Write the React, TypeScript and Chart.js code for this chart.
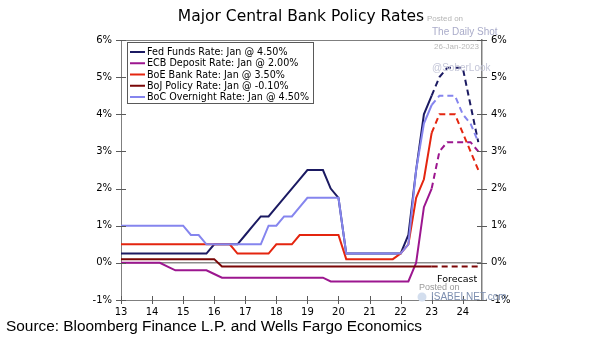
import React, { useEffect, useRef } from 'react';
import { Chart, registerables } from 'chart.js';

Chart.register(...registerables);

// Quarterly dates (year - 2000)
const QUARTERS = [
  13, 13.25, 13.5, 13.75, 14, 14.25, 14.5, 14.75, 15, 15.25, 15.5, 15.75,
  16, 16.25, 16.5, 16.75, 17, 17.25, 17.5, 17.75, 18, 18.25, 18.5, 18.75,
  19, 19.25, 19.5, 19.75, 20, 20.25, 20.5, 20.75, 21, 21.25, 21.5, 21.75,
  22, 22.25, 22.5, 22.75, 23, 23.25, 23.5, 23.75, 24, 24.25, 24.5,
];

const FED = [
  0.25, 0.25, 0.25, 0.25, 0.25, 0.25, 0.25, 0.25, 0.25, 0.25, 0.25, 0.25,
  0.5, 0.5, 0.5, 0.5, 0.75, 1.0, 1.25, 1.25, 1.5, 1.75, 2.0, 2.25,
  2.5, 2.5, 2.5, 2.0, 1.75, 0.25, 0.25, 0.25, 0.25, 0.25, 0.25, 0.25,
  0.25, 0.75, 2.5, 4.0, 4.5, 5.0, 5.25, 5.25, 5.25, 4.25, 3.25,
];
const ECB = [
  0, 0, 0, 0, 0, 0, -0.1, -0.2, -0.2, -0.2, -0.2, -0.2,
  -0.3, -0.4, -0.4, -0.4, -0.4, -0.4, -0.4, -0.4, -0.4, -0.4, -0.4, -0.4,
  -0.4, -0.4, -0.4, -0.5, -0.5, -0.5, -0.5, -0.5, -0.5, -0.5, -0.5, -0.5,
  -0.5, -0.5, 0.0, 1.5, 2.0, 3.0, 3.25, 3.25, 3.25, 3.25, 3.0,
];
const BOE = [
  0.5, 0.5, 0.5, 0.5, 0.5, 0.5, 0.5, 0.5, 0.5, 0.5, 0.5, 0.5,
  0.5, 0.5, 0.5, 0.25, 0.25, 0.25, 0.25, 0.25, 0.5, 0.5, 0.5, 0.75,
  0.75, 0.75, 0.75, 0.75, 0.75, 0.1, 0.1, 0.1, 0.1, 0.1, 0.1, 0.1,
  0.25, 0.5, 1.75, 2.25, 3.5, 4.0, 4.0, 4.0, 3.5, 3.0, 2.5,
];
const BOJ = [
  0.1, 0.1, 0.1, 0.1, 0.1, 0.1, 0.1, 0.1, 0.1, 0.1, 0.1, 0.1,
  0.1, -0.1, -0.1, -0.1, -0.1, -0.1, -0.1, -0.1, -0.1, -0.1, -0.1, -0.1,
  -0.1, -0.1, -0.1, -0.1, -0.1, -0.1, -0.1, -0.1, -0.1, -0.1, -0.1, -0.1,
  -0.1, -0.1, -0.1, -0.1, -0.1, -0.1, -0.1, -0.1, -0.1, -0.1, -0.1,
];
const BOC = [
  1.0, 1.0, 1.0, 1.0, 1.0, 1.0, 1.0, 1.0, 1.0, 0.75, 0.75, 0.5,
  0.5, 0.5, 0.5, 0.5, 0.5, 0.5, 0.5, 1.0, 1.0, 1.25, 1.25, 1.5,
  1.75, 1.75, 1.75, 1.75, 1.75, 0.25, 0.25, 0.25, 0.25, 0.25, 0.25, 0.25,
  0.25, 0.5, 2.5, 3.75, 4.25, 4.5, 4.5, 4.5, 4.0, 3.75, 3.25,
];

const SERIES_LABELS = [
  'Fed Funds Rate: Jan @ 4.50%',
  'ECB Deposit Rate: Jan @ 2.00%',
  'BoE Bank Rate: Jan @ 3.50%',
  'BoJ Policy Rate: Jan @ -0.10%',
  'BoC Overnight Rate: Jan @ 4.50%',
];
const SERIES_VALUES = [FED, ECB, BOE, BOJ, BOC];
const SERIES_COLORS = ['#1b1a62', '#9c168f', '#e4250f', '#7a0606', '#8585ee'];
// Excel draws the last series on top
const SERIES_ORDER = [5, 4, 3, 2, 1];

const X_TICKS = [13, 14, 15, 16, 17, 18, 19, 20, 21, 22, 23, 24];
const Y_TICKS = [-1, 0, 1, 2, 3, 4, 5, 6];
const FORECAST_START = 23;

const TITLE = 'Major Central Bank Policy Rates';
const SOURCE = 'Source: Bloomberg Finance L.P. and Wells Fargo Economics';

const FONT = 'DejaVu Sans';

const decorPlugin = {
  id: 'decor',
  afterDraw(chart: any) {
    const ctx = chart.ctx as CanvasRenderingContext2D;
    const area = chart.chartArea;
    const xs = chart.scales.x;
    const ys = chart.scales.y;
    ctx.save();

    // top border of plot area
    ctx.strokeStyle = '#7f7f7f';
    ctx.lineWidth = 1;
    ctx.beginPath();
    ctx.moveTo(area.left, Math.round(area.top) + 0.5);
    ctx.lineTo(area.right, Math.round(area.top) + 0.5);
    ctx.stroke();

    // tick marks crossing the axes
    ctx.strokeStyle = '#5a5a5a';
    ctx.beginPath();
    for (const v of Y_TICKS) {
      const y = Math.round(ys.getPixelForValue(v)) + 0.5;
      ctx.moveTo(area.left - 5, y);
      ctx.lineTo(area.left + 5, y);
      ctx.moveTo(area.right - 5, y);
      ctx.lineTo(area.right + 5, y);
    }
    for (const v of X_TICKS) {
      const x = Math.round(xs.getPixelForValue(v)) + 0.5;
      ctx.moveTo(x, area.bottom - 4);
      ctx.lineTo(x, area.bottom + 4);
    }
    ctx.stroke();

    // title
    ctx.fillStyle = '#000';
    ctx.font = `15.5px "${FONT}"`;
    ctx.textAlign = 'center';
    ctx.textBaseline = 'alphabetic';
    ctx.fillText(TITLE, 301, 21);

    // source
    ctx.textAlign = 'left';
    ctx.font = '15.4px "Liberation Sans"';
    ctx.fillText(SOURCE, 6, 331);

    // forecast label
    ctx.font = `9.5px "${FONT}"`;
    ctx.fillText('Forecast', 437, 282);

    // watermarks
    ctx.font = '8px "Liberation Sans"';
    ctx.fillStyle = '#b4b4b4';
    ctx.fillText('Posted on', 427, 21);
    ctx.font = '10px "Liberation Sans"';
    ctx.fillStyle = '#a9abc9';
    ctx.fillText('The Daily Shot', 432, 35);
    ctx.font = '8px "Liberation Sans"';
    ctx.fillStyle = '#b8b8b8';
    ctx.fillText('26-Jan-2023', 434, 49);
    ctx.font = '10px "Liberation Sans"';
    ctx.fillStyle = '#c4c6d8';
    ctx.fillText('@SoberLook', 432, 71);

    ctx.font = '9px "Liberation Sans"';
    ctx.fillStyle = '#9a9a9a';
    ctx.fillText('Posted on', 419, 290);
    ctx.font = '10px "Liberation Sans"';
    ctx.fillStyle = '#7d8fb0';
    ctx.fillText('ISABELNET.com', 431, 300);
    ctx.fillStyle = '#d3deee';
    ctx.beginPath();
    ctx.arc(422, 297, 4.5, 0, Math.PI * 2);
    ctx.fill();

    // legend box
    const lx = 127.5, ly = 42.5, lw = 186, lh = 61;
    ctx.fillStyle = '#ffffff';
    ctx.fillRect(lx, ly, lw, lh);
    ctx.strokeStyle = '#595959';
    ctx.lineWidth = 1;
    ctx.strokeRect(lx, ly, lw, lh);
    ctx.font = `9.6px "${FONT}"`;
    ctx.textBaseline = 'middle';
    SERIES_LABELS.forEach((label, i) => {
      const cy = 52 + i * 11.25;
      ctx.strokeStyle = SERIES_COLORS[i];
      ctx.lineWidth = 2;
      ctx.beginPath();
      ctx.moveTo(130, cy);
      ctx.lineTo(145, cy);
      ctx.stroke();
      ctx.fillStyle = '#000';
      ctx.fillText(label, 147, cy + 0.5);
    });

    ctx.restore();
  },
};

export default function App() {
  const ref = useRef<HTMLCanvasElement>(null);

  useEffect(() => {
    const canvas = ref.current;
    if (!canvas) return;
    const toPoints = (vals: number[]) => QUARTERS.map((x, i) => ({ x, y: vals[i] }));
    const datasets = SERIES_LABELS.map((label, i) => ({
      label,
      data: toPoints(SERIES_VALUES[i]),
      borderColor: SERIES_COLORS[i],
      backgroundColor: SERIES_COLORS[i],
      borderWidth: 2,
      pointRadius: 0,
      tension: 0,
      fill: false,
      order: SERIES_ORDER[i],
      segment: {
        borderDash: (c: any) => (c.p0.parsed.x >= FORECAST_START - 1e-9 ? [6, 4] : undefined),
      },
    }));

    const tickFont = { family: FONT, size: 10 };
    const chart = new Chart(canvas, {
      type: 'line',
      data: { datasets },
      options: {
        responsive: false,
        animation: false,
        layout: { padding: { top: 40, left: 0, right: 0, bottom: 0 } },
        plugins: {
          legend: { display: false },
          tooltip: { enabled: false },
          title: { display: false },
        },
        scales: {
          x: {
            type: 'linear',
            min: 13,
            max: 24.62,
            afterFit: (s: any) => { s.height = 41; },
            afterBuildTicks: (s: any) => { s.ticks = X_TICKS.map((v) => ({ value: v })); },
            grid: { display: false, drawTicks: false },
            border: { display: true, color: '#7f7f7f', width: 1 },
            ticks: {
              font: tickFont,
              color: '#000',
              padding: 6,
              maxRotation: 0,
              autoSkip: false,
              callback: (v: any) => String(v),
            },
          },
          y: {
            position: 'left',
            min: -1,
            max: 6,
            afterFit: (s: any) => { s.width = 121; },
            afterBuildTicks: (s: any) => { s.ticks = Y_TICKS.map((v) => ({ value: v })); },
            grid: {
              drawTicks: false,
              color: (c: any) => (c.tick && c.tick.value === 0 ? '#8c8c8c' : 'rgba(0,0,0,0)'),
              lineWidth: 1.5,
            },
            border: { display: true, color: '#7f7f7f', width: 1 },
            ticks: { font: tickFont, color: '#000', padding: 9, callback: (v: any) => `${v}%` },
          },
          y2: {
            position: 'right',
            min: -1,
            max: 6,
            afterFit: (s: any) => { s.width = 123; },
            afterBuildTicks: (s: any) => { s.ticks = Y_TICKS.map((v) => ({ value: v })); },
            grid: { display: false, drawTicks: false },
            border: { display: true, color: '#7f7f7f', width: 1.5 },
            ticks: { font: tickFont, color: '#000', padding: 9, callback: (v: any) => `${v}%` },
          },
        },
      },
      plugins: [decorPlugin],
    });
    return () => chart.destroy();
  }, []);

  return (
    <canvas
      ref={ref}
      width={605}
      height={341}
      style={{ position: 'fixed', left: 0, top: 0, width: 605, height: 341 }}
    />
  );
}
